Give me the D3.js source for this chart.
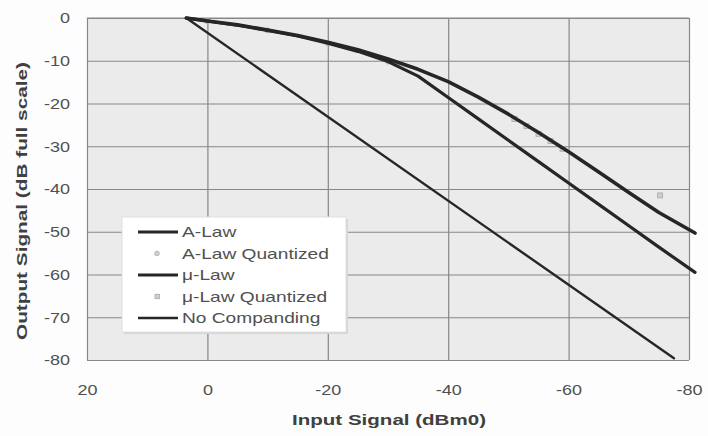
<!DOCTYPE html>
<html><head><meta charset="utf-8">
<script src="https://cdn.jsdelivr.net/npm/d3@7"></script>
<style>
html,body{margin:0;padding:0;background:#fdfdfd;}
svg{display:block;font-family:"Liberation Sans",Arial,sans-serif;}
</style></head>
<body>
<script>
// ---- data ----
const xTicks = [20, 0, -20, -40, -60, -80];
const yTicks = [0, -10, -20, -30, -40, -50, -60, -70, -80];
const xTickLabels = ["20", "0", "-20", "-40", "-60", "-80"];
const yTickLabels = ["0", "-10", "-20", "-30", "-40", "-50", "-60", "-70", "-80"];

const inputLevels = [3.5, 0, -5, -10, -15, -20, -25, -30, -35, -40, -45, -50, -55, -60, -65, -70, -75, -81];
const aLaw  = [0, -0.7, -1.7, -2.9, -4.2, -5.9, -7.8, -10.2, -13.6, -18.6, -23.6, -28.6, -33.6, -38.6, -43.6, -48.6, -53.6, -59.5];
const muLaw = [0, -0.7, -1.6, -2.8, -4.1, -5.7, -7.4, -9.6, -12.0, -14.9, -18.5, -22.5, -26.8, -31.3, -36.0, -40.8, -45.5, -50.3];

const noCompIn  = [3.5, -77.5];
const noCompOut = [0, -79.6];

const aQuantIn  = [0, -10, -20, -30];
const aQuantOut = [-0.7, -2.9, -5.9, -10.2];
const muQuantIn  = [-51, -53, -55, -57, -59, -75.2];
const muQuantOut = [-23.6, -25.3, -27.1, -28.8, -30.6, -41.5];

const legendLabels = ["A-Law", "A-Law Quantized", "\u03bc-Law", "\u03bc-Law Quantized", "No Companding"];

// ---- drawing ----
const W = 708, H = 436;
const svg = d3.select("body").append("svg").attr("width", W).attr("height", H);

const x = d3.scaleLinear().domain([20, -80]).range([87, 689]);
const y = d3.scaleLinear().domain([0, -80]).range([18, 360]);

const lineCol = "#262626", gridCol = "#878787", textCol = "#505050";

function stretch(sel, f) {
  sel.each(function () {
    const l = this.getComputedTextLength();
    this.setAttribute("textLength", l * f);
    this.setAttribute("lengthAdjust", "spacingAndGlyphs");
  });
}

// plot background
svg.append("rect").attr("x", x(20)).attr("y", y(0))
  .attr("width", x(-80) - x(20)).attr("height", y(-80) - y(0))
  .attr("fill", "#ebebeb");

// axes with grid
const gx = svg.append("g").attr("transform", `translate(0,${y(-80)})`)
  .call(d3.axisBottom(x).tickValues(xTicks).tickFormat((d, i) => xTickLabels[i])
    .tickSize(-(y(-80) - y(0))).tickPadding(24));
const gy = svg.append("g").attr("transform", `translate(${x(20)},0)`)
  .call(d3.axisLeft(y).tickValues(yTicks).tickFormat((d, i) => yTickLabels[i])
    .tickSize(-(x(-80) - x(20))).tickPadding(17));
[gx, gy].forEach(g => {
  g.select(".domain").remove();
  g.selectAll(".tick line").attr("stroke", gridCol).attr("stroke-width", 1.2);
  g.selectAll(".tick text").attr("fill", textCol).attr("font-size", 15)
    .attr("font-family", "'Liberation Sans',Arial,sans-serif");
});
gx.selectAll(".tick text").call(stretch, 1.2);
gy.selectAll(".tick text").call(stretch, 1.2);
svg.append("line").attr("x1", x(20)).attr("x2", x(-80)).attr("y1", y(0)).attr("y2", y(0))
  .attr("stroke", gridCol).attr("stroke-width", 1.2);

// quantized markers (drawn first: mostly hidden under the curves)
svg.append("g").selectAll("circle").data(aQuantIn.map((v, i) => [v, aQuantOut[i]])).join("circle")
  .attr("cx", d => x(d[0])).attr("cy", d => y(d[1])).attr("r", 2.5)
  .attr("fill", "#cfcfcf").attr("stroke", "#a5a5a5").attr("stroke-width", 0.8);
svg.append("g").selectAll("rect").data(muQuantIn.map((v, i) => [v, muQuantOut[i]])).join("rect")
  .attr("x", d => x(d[0]) - 2.5).attr("y", d => y(d[1]) - 2.5).attr("width", 5).attr("height", 5)
  .attr("fill", "#cdcdcd").attr("stroke", "#a8a8a8").attr("stroke-width", 0.8);

// series lines
const line = d3.line().x(d => x(d[0])).y(d => y(d[1]));
const aPts = inputLevels.map((v, i) => [v, aLaw[i]]);
const muPts = inputLevels.map((v, i) => [v, muLaw[i]]);
const ncPts = noCompIn.map((v, i) => [v, noCompOut[i]]);

svg.append("path").attr("d", line(ncPts)).attr("fill", "none")
  .attr("stroke", lineCol).attr("stroke-width", 2.4).attr("stroke-linecap", "round");
svg.append("path").attr("d", line(aPts)).attr("fill", "none")
  .attr("stroke", lineCol).attr("stroke-width", 3.2).attr("stroke-linejoin", "round").attr("stroke-linecap", "round");
svg.append("path").attr("d", line(muPts)).attr("fill", "none")
  .attr("stroke", lineCol).attr("stroke-width", 3.6).attr("stroke-linejoin", "round").attr("stroke-linecap", "round");

// axis titles
svg.append("text").attr("x", 389).attr("y", 425).attr("text-anchor", "middle")
  .attr("font-size", 15).attr("font-weight", "bold").attr("fill", "#404040")
  .attr("textLength", 194).attr("lengthAdjust", "spacingAndGlyphs")
  .text("Input Signal (dBm0)");
svg.append("text").attr("transform", "translate(27,201) rotate(-90)").attr("text-anchor", "middle")
  .attr("font-size", 15).attr("font-weight", "bold").attr("fill", "#404040")
  .attr("textLength", 278).attr("lengthAdjust", "spacingAndGlyphs")
  .text("Output Signal (dB full scale)");

// legend
const lg = svg.append("g");
lg.append("rect").attr("x", 124).attr("y", 219).attr("width", 224).attr("height", 115)
  .attr("fill", "#d6d6d6");
lg.append("rect").attr("x", 122).attr("y", 217).attr("width", 224).attr("height", 115)
  .attr("fill", "#ffffff").attr("stroke", "#e0e0e0").attr("stroke-width", 1);
const rowY = d3.scalePoint().domain(legendLabels).range([232, 318]);
legendLabels.forEach((lab, i) => {
  const yy = rowY(lab);
  if (i === 1) {
    lg.append("circle").attr("cx", 157).attr("cy", yy).attr("r", 2.3)
      .attr("fill", "#d0d0d0").attr("stroke", "#a8a8a8").attr("stroke-width", 0.8);
  } else if (i === 3) {
    lg.append("rect").attr("x", 155).attr("y", yy - 2.2).attr("width", 4.4).attr("height", 4.4)
      .attr("fill", "#d0d0d0").attr("stroke", "#a8a8a8").attr("stroke-width", 0.8);
  } else {
    lg.append("line").attr("x1", 138).attr("x2", 178).attr("y1", yy).attr("y2", yy)
      .attr("stroke", lineCol).attr("stroke-width", i === 4 ? 2.4 : 3.2);
  }
  lg.append("text").attr("x", 182).attr("y", yy).attr("dy", "0.36em")
    .attr("font-size", 14.5).attr("fill", textCol).text(lab);
});
lg.selectAll("text").call(stretch, 1.32);
</script>
</body></html>
